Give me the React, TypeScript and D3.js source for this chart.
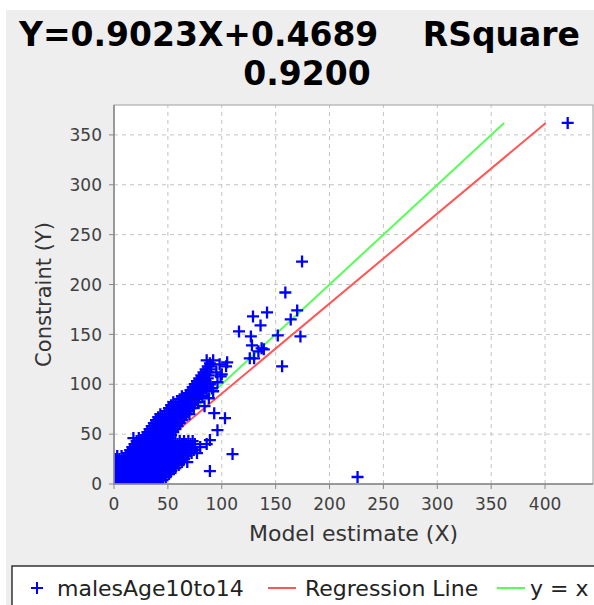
import React from 'react';
import * as d3 from 'd3';

const W = 594;
const H = 605;

const titleEquation = 'Y=0.9023X+0.4689';
const titleRSquareLabel = 'RSquare';
const titleRSquareValue = '0.9200';
const slope = 0.9023;
const intercept = 0.4689;

const xTicks = [0, 50, 100, 150, 200, 250, 300, 350, 400];
const yTicks = [0, 50, 100, 150, 200, 250, 300, 350];
const xLabel = 'Model estimate (X)';
const yLabel = 'Constraint (Y)';
const legendNames = ['malesAge10to14', 'Regression Line', 'y = x'];

// dense cluster, read row by row (y value, x values)
const clusterRowY = [1, 4, 7, 10, 13, 16, 19, 22, 25, 28, 31, 34, 37, 40, 43, 46, 49, 52, 55, 58, 61, 64, 67, 70, 73, 76, 79, 82, 85, 88, 91, 94, 97, 100, 103, 106, 109, 112, 115, 118, 121];
const clusterRowX = [
  [1, 5, 9, 13, 17, 21, 25, 29, 33, 37, 41],
  [3, 7, 11, 15, 19, 23, 27, 31, 35, 39, 43, 45],
  [1, 5, 9, 13, 17, 21, 25, 29, 33, 37, 41, 45, 48],
  [3, 7, 11, 15, 19, 23, 27, 31, 35, 39, 43, 47, 51],
  [1, 5, 9, 13, 17, 21, 25, 29, 33, 37, 41, 45, 49, 53],
  [3, 7, 11, 15, 19, 23, 27, 31, 35, 39, 43, 47, 51, 55, 57],
  [1, 5, 9, 13, 17, 21, 25, 29, 33, 37, 41, 45, 49, 53, 57, 60],
  [3, 7, 11, 15, 19, 23, 27, 31, 35, 39, 43, 47, 51, 55, 59, 63],
  [1, 5, 9, 13, 17, 21, 25, 29, 33, 37, 41, 45, 49, 53, 57, 61, 65],
  [3, 7, 11, 15, 19, 23, 27, 31, 35, 39, 43, 47, 51, 55, 59, 63, 67],
  [13, 17, 21, 25, 29, 33, 37, 41, 45, 49, 53, 57, 61, 65, 69, 72],
  [15, 19, 23, 27, 31, 35, 39, 43, 47, 51, 55, 59, 63, 67, 71, 74],
  [17, 21, 25, 29, 33, 37, 41, 45, 49, 53, 57, 61, 65, 69, 73, 75],
  [19, 23, 27, 31, 35, 39, 43, 47, 51, 55, 59, 63, 67, 71, 75],
  [21, 25, 29, 33, 37, 41, 45, 49, 53, 57, 61, 65, 69, 73],
  [23, 27, 31, 35, 39, 43, 47, 51],
  [29, 33, 37, 41, 45, 49, 53],
  [31, 35, 39, 43, 47, 51, 55],
  [33, 37, 41, 45, 49, 53, 57],
  [35, 39, 43, 47, 51, 55, 59],
  [37, 41, 45, 49, 53, 57, 61],
  [39, 43, 47, 51, 55, 59, 63],
  [41, 45, 49, 53, 57, 61, 65],
  [43, 47, 51, 55, 59, 63, 67, 70],
  [49, 53, 57, 61, 65, 69],
  [51, 55, 59, 63, 67, 71, 74],
  [53, 57, 61, 65, 69, 73],
  [55, 59, 63, 67, 71, 75, 78],
  [61, 65, 69, 73, 77],
  [63, 67, 71, 75, 79, 82],
  [69, 73, 77, 81],
  [71, 75, 79, 83, 86],
  [73, 77, 81, 85],
  [75, 79, 83, 86, 89],
  [77, 81, 85],
  [79, 83, 87],
  [81, 85, 88],
  [83, 87],
  [85, 89],
  [87, 90],
  [89],
];

// individually visible points
const outlierX = [421, 226, 174.5, 159, 170, 164, 142, 129, 136, 116, 127, 152, 173, 128, 137, 134, 139, 126, 130, 156, 105, 92, 86, 110, 89, 96, 89, 86, 103, 93, 77, 68, 18, 95, 100, 104, 98, 96, 92, 99, 80, 84, 88, 91];
const outlierY = [362, 7, 223, 192, 174, 165, 172, 168, 159, 153, 148, 149, 148, 139, 136, 133, 135, 126, 126, 118, 122, 124, 124, 30, 13, 54, 44, 40, 66, 71, 31, 22, 46, 112, 110, 118, 120, 102, 93, 108, 37, 78, 86, 96];

const FONT = 'DejaVu Sans, Verdana, sans-serif';
const BLUE = '#0000ff';
const RED = '#ff5555';
const GREEN = '#55ff55';

export default function App() {
  const points: [number, number][] = [];
  clusterRowY.forEach((yy, i) => clusterRowX[i].forEach((xx) => points.push([xx, yy])));
  outlierX.forEach((xx, i) => points.push([xx, outlierY[i]]));

  const x = d3.scaleLinear().domain([0, 444.5]).range([114, 593]);
  const y = d3.scaleLinear().domain([0, 380]).range([484, 105]);
  const [x0, x1] = x.range();
  const [y0, y1] = y.range();

  const yMax = d3.max(points, (d) => d[1]) as number;
  const regLine: [number, number][] = [[0, intercept], [(yMax - intercept) / slope, yMax]];
  const idLine: [number, number][] = [[0, 0], [yMax, yMax]];
  const line = d3.line<[number, number]>().x((d) => x(d[0])).y((d) => y(d[1]));

  const cross = 'M-6,0H6M0,-6V6';

  return (
    <svg width={W} height={H} style={{ position: 'absolute', left: 0, top: 0 }} fontFamily={FONT}>
      <rect x={0} y={0} width={W} height={H} fill="#ffffff" />
      <rect x={6} y={10} width={W - 6} height={H - 10} fill="#eeeeee" />
      {/* title */}
      <text x={19} y={46} fontSize={33} fontWeight="bold" fill="#000">{titleEquation}</text>
      <text x={580} y={46} fontSize={33} fontWeight="bold" fill="#000" textAnchor="end">{titleRSquareLabel}</text>
      <text x={307} y={85} fontSize={33} fontWeight="bold" fill="#000" textAnchor="middle">{titleRSquareValue}</text>

      {/* plot area */}
      <defs>
        <clipPath id="plotClip">
          <rect x={x0} y={y1} width={x1 - x0} height={y0 - y1} />
        </clipPath>
      </defs>
      <rect x={x0} y={y1} width={x1 - x0} height={y0 - y1} fill="#ffffff" />
      {xTicks.filter((t) => t > 0).map((t) => (
        <line key={'gx' + t} x1={x(t)} x2={x(t)} y1={y0} y2={y1} stroke="#c4c4c4" strokeWidth={1} strokeDasharray="4,4" />
      ))}
      {yTicks.filter((t) => t > 0).map((t) => (
        <line key={'gy' + t} x1={x0} x2={x1} y1={y(t)} y2={y(t)} stroke="#c4c4c4" strokeWidth={1} strokeDasharray="4,4" />
      ))}
      <g clipPath="url(#plotClip)">
        <path d={line(regLine) as string} stroke={RED} strokeWidth={2} fill="none" />
        <path d={line(idLine) as string} stroke={GREEN} strokeWidth={2} fill="none" />
        {points.map((p, i) => (
          <path key={i} d={cross} transform={`translate(${x(p[0])},${y(p[1])})`} stroke={BLUE} strokeWidth={2.3} fill="none" />
        ))}
      </g>
      <rect x={x0} y={y1} width={x1 - x0} height={y0 - y1} fill="none" stroke="#a0a0a0" strokeWidth={1} />
      <line x1={x0} x2={x0} y1={y1} y2={y0} stroke="#888" strokeWidth={1.5} />
      <line x1={x0} x2={x1} y1={y0} y2={y0} stroke="#888" strokeWidth={1.5} />

      {/* axes */}
      {xTicks.map((t) => (
        <g key={'xt' + t}>
          <line x1={x(t)} x2={x(t)} y1={y0} y2={y0 + 5} stroke="#888" strokeWidth={1} />
          <text x={x(t)} y={510} fontSize={17} fill="#404040" textAnchor="middle">{t}</text>
        </g>
      ))}
      {yTicks.map((t) => (
        <g key={'yt' + t}>
          <line x1={x0 - 5} x2={x0} y1={y(t)} y2={y(t)} stroke="#888" strokeWidth={1} />
          <text x={102} y={y(t)} dy="0.36em" fontSize={17} fill="#404040" textAnchor="end">{t}</text>
        </g>
      ))}
      <text x={(x0 + x1) / 2} y={541} fontSize={22} fill="#333" textAnchor="middle">{xLabel}</text>
      <text transform={`translate(51,${(y0 + y1) / 2}) rotate(-90)`} fontSize={21} fill="#333" textAnchor="middle">{yLabel}</text>

      {/* legend */}
      <rect x={12} y={566} width={600} height={60} fill="#ffffff" stroke="#333" strokeWidth={1.5} />
      <path d={cross} transform="translate(37,588)" stroke={BLUE} strokeWidth={2} fill="none" />
      <text x={57} y={596} fontSize={22} fill="#222">{legendNames[0]}</text>
      <line x1={268} x2={296} y1={588} y2={588} stroke={RED} strokeWidth={2} />
      <text x={305} y={596} fontSize={22} fill="#222">{legendNames[1]}</text>
      <line x1={497} x2={525} y1={588} y2={588} stroke={GREEN} strokeWidth={2} />
      <text x={530} y={596} fontSize={22} fill="#222">{legendNames[2]}</text>
    </svg>
  );
}
